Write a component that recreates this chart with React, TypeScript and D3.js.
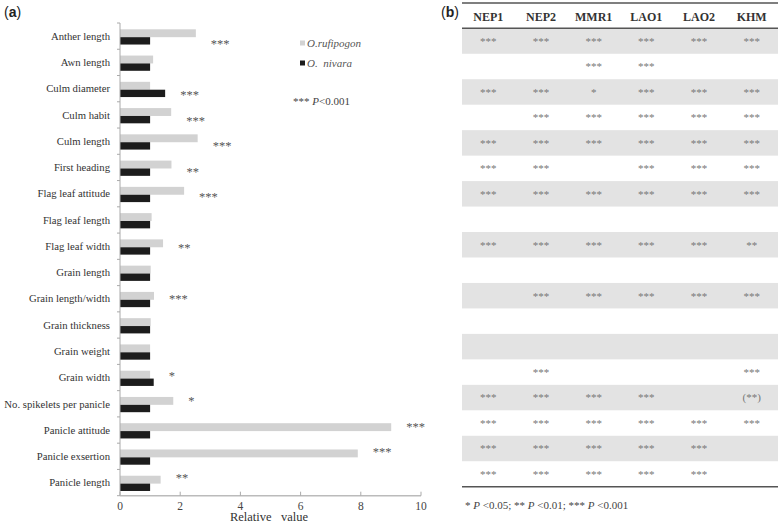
import React from 'react';
import * as d3 from 'd3';

const categories = [
  'Anther length', 'Awn length', 'Culm diameter', 'Culm habit', 'Culm length',
  'First heading', 'Flag leaf attitude', 'Flag leaf length', 'Flag leaf width',
  'Grain length', 'Grain length/width', 'Grain thickness', 'Grain weight',
  'Grain width', 'No. spikelets per panicle', 'Panicle attitude',
  'Panicle exsertion', 'Panicle length',
];
const rufipogon = [2.52, 1.1, 1.0, 1.7, 2.58, 1.71, 2.13, 1.05, 1.43, 1.02, 1.13, 1.02, 1.0, 1.0, 1.77, 9.01, 7.9, 1.35];
const nivara = [1, 1, 1.5, 1, 1, 1, 1, 1, 1, 1, 1, 1, 1, 1.12, 1, 1, 1, 1];
const significance = ['***', '', '***', '***', '***', '**', '***', '', '**', '', '***', '', '', '*', '*', '***', '***', '**'];
const xTicks = [0, 2, 4, 6, 8, 10];

const regions = ['NEP1', 'NEP2', 'MMR1', 'LAO1', 'LAO2', 'KHM'];
const regionSig = [
  ['***', '***', '***', '***', '***', '***'],
  ['', '', '***', '***', '', ''],
  ['***', '***', '*', '***', '***', '***'],
  ['', '***', '***', '***', '***', '***'],
  ['***', '***', '***', '***', '***', '***'],
  ['***', '***', '', '***', '***', '***'],
  ['***', '***', '***', '***', '***', '***'],
  ['', '', '', '', '', ''],
  ['***', '***', '***', '***', '***', '**'],
  ['', '', '', '', '', ''],
  ['', '***', '***', '***', '***', '***'],
  ['', '', '', '', '', ''],
  ['', '', '', '', '', ''],
  ['', '***', '', '', '', '***'],
  ['***', '***', '***', '***', '', '(**)'],
  ['***', '***', '***', '***', '***', '***'],
  ['***', '***', '***', '***', '***', ''],
  ['***', '***', '***', '***', '***', ''],
];

const serif = '"Liberation Serif", "Times New Roman", serif';
const sans = '"Liberation Sans", Arial, sans-serif';

const App = () => {
  const x = d3.scaleLinear().domain([0, 10]).range([120, 421]);
  const y = d3.scaleBand().domain(categories).range([23, 495.7]);
  const bw = y.bandwidth();
  const n = categories.length;

  const tx = d3.scaleBand().domain(regions).range([462, 778]);
  const ty = d3.scaleBand().domain(categories).range([28.3, 486.7]);

  return (
    <div style={{ position: 'absolute', left: 0, top: 0 }}>
      <svg width={780} height={524} style={{ display: 'block', background: '#fff' }}>
        {/* panel (a) */}
        <text x={4} y={17} fontFamily={sans} fontSize={14} fill="#222">
          (<tspan fontWeight="bold">a</tspan>)
        </text>

        {categories.map((c, i) => (
          <g key={c}>
            <rect x={x(0)} y={y(c)! + bw * 0.24} width={x(rufipogon[i]) - x(0)} height={bw * 0.3} fill="#d2d2d2" />
            <rect x={x(0)} y={y(c)! + bw * 0.54} width={x(nivara[i]) - x(0)} height={bw * 0.28} fill="#1c1c1c" />
            <text x={110} y={y(c)! + bw * 0.5} dy="0.35em" textAnchor="end" fontFamily={serif} fontSize={10.7} fill="#333">
              {c}
            </text>
            {significance[i] && (
              <text
                x={x(Math.max(rufipogon[i], nivara[i])) + 15}
                y={y(c)! + bw * (0.8 - 0.5 * i / (n - 1))}
                dy="0.35em"
                fontFamily={serif}
                fontSize={12.5}
                fill="#555"
              >
                {significance[i]}
              </text>
            )}
          </g>
        ))}

        {/* y axis */}
        <line x1={x(0)} x2={x(0)} y1={y.range()[0]} y2={y.range()[1]} stroke="#aaa" />
        {[...categories.map((c) => y(c)!), y.range()[1]].map((v, i) => (
          <line key={i} x1={x(0) - 3} x2={x(0)} y1={v} y2={v} stroke="#aaa" />
        ))}

        {/* x axis */}
        <line x1={x(0)} x2={x(10)} y1={y.range()[1]} y2={y.range()[1]} stroke="#bbb" strokeWidth={1.5} />
        {xTicks.map((t) => (
          <g key={t}>
            <line x1={x(t)} x2={x(t)} y1={y.range()[1] - 4} y2={y.range()[1]} stroke="#aaa" />
            <text x={x(t)} y={505.5} dy="0.35em" textAnchor="middle" fontFamily={serif} fontSize={11.5} fill="#444">
              {t}
            </text>
          </g>
        ))}
        <text x={269} y={517} dy="0.35em" textAnchor="middle" fontFamily={serif} fontSize={12.5} fill="#333" style={{ whiteSpace: 'pre' }}>
          {'Relative   value'}
        </text>

        {/* legend */}
        <rect x={300} y={40.5} width={5} height={5} fill="#d2d2d2" />
        <text x={307} y={43.3} dy="0.35em" fontFamily={serif} fontSize={11} fontStyle="italic" fill="#555">O.rufipogon</text>
        <rect x={300} y={60.5} width={5} height={5} fill="#1c1c1c" />
        <text x={307} y={63.3} dy="0.35em" fontFamily={serif} fontSize={11} fontStyle="italic" fill="#555" style={{ whiteSpace: 'pre' }}>{'O.  nivara'}</text>
        <text x={293} y={100.7} dy="0.35em" fontFamily={serif} fontSize={11} fill="#444">
          *** <tspan fontStyle="italic">P</tspan>{'<0.001'}
        </text>

        {/* panel (b) */}
        <text x={441} y={17} fontFamily={sans} fontSize={14} fill="#222">
          (<tspan fontWeight="bold">b</tspan>)
        </text>
        {categories.map((c, i) => (
          <g key={'t' + c}>
            {i % 2 === 0 && <rect x={tx.range()[0]} y={ty(c)!} width={tx.range()[1] - tx.range()[0]} height={ty.bandwidth()} fill="#e3e3e3" />}
            {regions.map((r, j) =>
              regionSig[i][j] ? (
                <text
                  key={r}
                  x={tx(r)! + tx.bandwidth() / 2}
                  y={ty(c)! + ty.bandwidth() / 2}
                  dy="0.35em"
                  textAnchor="middle"
                  fontFamily={serif}
                  fontSize={11}
                  fill="#777"
                >
                  {regionSig[i][j]}
                </text>
              ) : null
            )}
          </g>
        ))}
        {regions.map((r) => (
          <text key={r} x={tx(r)! + tx.bandwidth() / 2} y={16.5} dy="0.35em" textAnchor="middle" fontFamily={serif} fontSize={12} fontWeight="bold" fill="#333">
            {r}
          </text>
        ))}
        <line x1={tx.range()[0]} x2={tx.range()[1]} y1={3} y2={3} stroke="#555" strokeWidth={1.5} />
        <line x1={tx.range()[0]} x2={tx.range()[1]} y1={ty.range()[0]} y2={ty.range()[0]} stroke="#555" strokeWidth={1.5} />
        <line x1={tx.range()[0]} x2={tx.range()[1]} y1={ty.range()[1]} y2={ty.range()[1]} stroke="#555" strokeWidth={1.5} />
        <text x={465} y={505} dy="0.35em" fontFamily={serif} fontSize={11} fill="#444">
          * <tspan fontStyle="italic">P</tspan>{' <0.05; ** '}<tspan fontStyle="italic">P</tspan>{' <0.01; *** '}<tspan fontStyle="italic">P</tspan>{' <0.001'}
        </text>
      </svg>
    </div>
  );
};

export default App;
